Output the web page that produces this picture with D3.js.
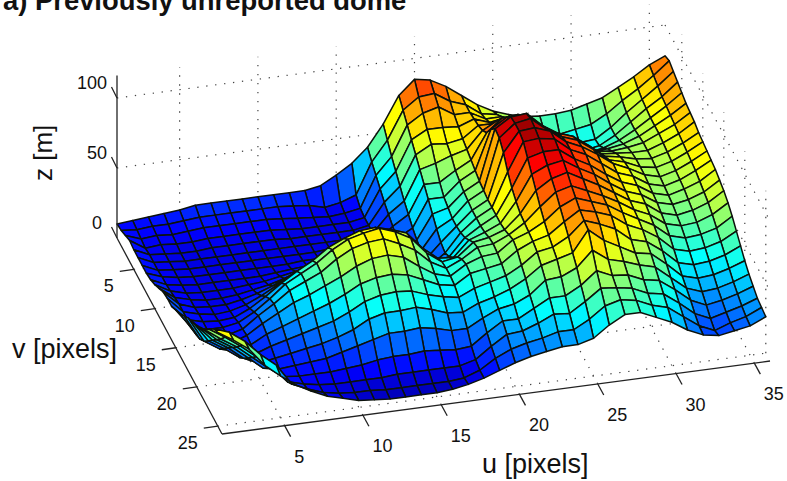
<!DOCTYPE html>
<html><head><meta charset="utf-8">
<style>html,body{margin:0;padding:0;background:#fff}svg{display:block}text{font-family:"Liberation Sans",Arial,sans-serif;fill:#111}</style>
<script src="https://cdn.jsdelivr.net/npm/d3@7"></script></head><body>
<script>
const titleText = "a) Previously unreported dome";
const uTicks = [5,10,15,20,25,30,35];
const vTicks = [5,10,15,20,25];
const zTicks = [0,50,100];
const uGridVals = d3.range(1,37);
const vGridVals = d3.range(1,26);
// z [m] per column u=1..36, each list running v=1..25
const zByU = [
[10,11,13,15,14,14,14,14,15,17,20,23,24,24,27,30,34,38,41,44,48,52,58,64,67],
[11,10,9,8,9,9,9,10,10,11,12,13,13,13,13,14,16,20,26,32,38,44,51,60,60],
[12,11,10,9,8,8,8,8,8,8,9,9,10,10,10,10,10,13,19,25,31,37,43,52,52],
[13,11,9,8,7,7,7,7,7,7,7,8,8,9,10,10,10,10,11,16,22,28,34,41,39],
[14,12,10,8,7,7,7,7,7,7,7,8,9,10,12,13,14,13,12,11,13,19,25,32,30],
[16,13,11,9,8,7,7,7,7,7,8,10,12,15,18,21,21,19,16,13,11,11,13,17,22],
[16,13,11,9,8,7,7,7,7,8,10,13,17,22,26,28,27,23,19,15,12,10,10,12,16],
[16,13,11,9,8,7,7,7,7,9,12,17,23,30,35,36,33,27,22,17,13,10,8,8,11],
[16,13,11,9,8,7,7,7,8,11,15,22,29,37,41,41,37,31,25,19,14,10,7,6,8],
[16,13,11,9,8,7,7,7,9,13,19,27,35,43,47,46,42,35,28,22,17,11,7,5,5],
[16,13,10,8,7,7,7,8,10,15,23,32,41,51,55,54,47,40,33,26,20,12,7,5,4],
[16,12,9,7,7,7,7,8,11,18,27,37,46,56,61,60,53,46,39,32,23,14,7,4,3],
[16,11,8,7,7,7,8,9,13,20,29,39,49,60,64,63,57,49,42,35,26,15,8,4,3],
[18,8,7,7,7,7,8,10,14,21,30,40,50,61,66,64,58,50,43,35,26,15,8,4,3],
[24,10,8,7,7,7,8,10,14,20,28,38,48,58,62,59,55,48,42,36,27,16,8,4,3],
[31,14,10,9,9,9,9,10,12,16,24,33,44,54,56,53,47,43,38,33,25,15,8,4,4],
[41,36,32,28,24,21,18,15,13,12,15,21,32,42,44,43,40,38,35,29,22,14,8,5,6],
[56,50,44,39,34,29,25,21,18,16,15,16,25,33,36,37,37,36,33,28,22,15,11,9,9],
[75,70,65,60,55,50,45,40,35,30,26,24,27,32,38,42,44,43,38,33,28,23,19,16,13],
[85,78,72,66,61,53,45,40,38,36,36,37,39,43,47,49,48,45,41,36,33,30,26,21,17],
[83,79,75,66,60,57,52,50,48,47,46,46,46,47,49,50,49,47,44,40,35,30,27,24,20],
[77,72,68,65,62,60,58,56,54,53,52,52,52,52,53,55,57,55,50,46,40,36,31,26,22],
[69,68,68,69,70,72,76,84,90,89,84,76,70,66,63,62,61,60,58,54,49,42,36,29,24],
[61,60,62,65,70,78,85,91,97,98,98,96,90,84,78,72,67,63,60,57,50,42,35,29,24],
[55,58,62,67,72,79,86,91,98,100,99,97,93,89,85,81,76,71,66,60,55,48,42,35,27],
[51,52,55,60,66,72,78,84,88,91,95,95,93,91,88,84,81,78,76,75,66,57,50,43,35],
[48,47,48,52,57,63,70,76,81,84,86,86,85,84,82,79,77,75,72,66,58,52,49,46,41],
[47,42,42,46,52,59,66,72,77,80,81,81,79,78,76,74,73,71,67,60,55,51,47,44,41],
[47,38,37,40,45,51,58,64,69,72,74,73,71,70,69,68,66,63,58,54,51,46,42,39,36],
[48,40,36,36,40,46,52,56,60,63,66,65,64,63,62,61,60,58,55,52,48,44,40,36,31],
[51,42,37,38,42,47,51,55,58,60,61,61,60,59,58,56,54,51,47,43,39,36,32,28,24],
[54,48,44,44,46,49,52,54,55,55,55,54,53,52,50,48,45,41,37,33,30,27,23,20,19],
[60,56,53,52,52,53,54,54,54,53,52,51,50,49,47,45,42,38,34,30,26,22,18,15,17],
[66,63,61,60,59,59,59,58,57,56,55,54,53,51,49,46,43,39,35,31,27,24,21,19,19],
[73,71,69,67,66,65,64,63,62,61,60,59,57,55,53,50,46,42,38,34,30,27,24,22,21],
[78,80,78,76,74,72,71,70,68,67,66,65,64,62,60,57,53,48,43,38,34,31,28,27,26]
];
const width=787,height=481;
const ox=117, oy=238;
const uX=d3.scaleLinear().domain([1,36]).range([0,548]);
const uY=d3.scaleLinear().domain([1,36]).range([0,-73]);
const vX=d3.scaleLinear().domain([1,26]).range([0,105]);
const vY=d3.scaleLinear().domain([1,26]).range([0,196]);
const zY=d3.scaleLinear().domain([0,100]).range([0,-140]);
const zMax=116;
const px=(u,v)=>ox+uX(u)+vX(v);
const py=(u,v,z)=>oy+uY(u)+vY(v)+zY(z);
const jet=d3.scaleLinear()
 .domain([0,.125,.375,.625,.875,1].map(t=>t*105-3))
 .range(["#000080","#0000ff","#00ffff","#ffff00","#ff0000","#800000"]).clamp(true);

const svg=d3.select("body").append("svg").attr("width",width).attr("height",height);

const gridG=svg.append("g").attr("fill","none").attr("stroke","#444").attr("stroke-width",1.2).attr("stroke-dasharray","1.3 7.7");
const seg=(a,b)=>gridG.append("line").attr("x1",px(a[0],a[1])).attr("y1",py(a[0],a[1],a[2])).attr("x2",px(b[0],b[1])).attr("y2",py(b[0],b[1],b[2]));
uTicks.forEach(u=>{seg([u,26,0],[u,1,0]);seg([u,1,0],[u,1,zMax]);});
vTicks.forEach(v=>{seg([1,v,0],[36,v,0]);seg([36,v,0],[36,v,zMax]);});
zTicks.filter(z=>z>0).forEach(z=>{seg([1,1,z],[36,1,z]);seg([36,1,z],[36,26,z]);});

const cells=[];
vGridVals.slice(0,-1).forEach((v,j)=>{
  d3.range(uGridVals.length-2,-1,-1).forEach(i=>{
    const c=[[i,j],[i+1,j],[i+1,j+1],[i,j+1]];
    cells.push({pts:c.map(([a,b])=>[px(uGridVals[a],vGridVals[b]),py(uGridVals[a],vGridVals[b],zByU[a][b])]),
                z:d3.mean(c,([a,b])=>zByU[a][b])});
  });
});
svg.append("g").selectAll("polygon").data(cells).join("polygon")
 .attr("points",d=>d.pts.map(p=>p.join(",")).join(" "))
 .attr("fill",d=>jet(d.z))
 .attr("stroke","#0c120c").attr("stroke-width",1.5).attr("stroke-linejoin","round");

const axisG=svg.append("g").attr("stroke","#222").attr("stroke-width",1.3).attr("fill","none");
const aline=(x1,y1,x2,y2)=>axisG.append("line").attr("x1",x1).attr("y1",y1).attr("x2",x2).attr("y2",y2);
aline(px(1,1),py(1,1,0),px(1,1),py(1,1,zMax));
aline(px(1,1),py(1,1,0),px(1,26),py(1,26,0));
aline(px(1,26),py(1,26,0),px(36,26),py(36,26,0));
zTicks.forEach(z=>aline(px(1,1),py(1,1,z),px(1,1)-5.5,py(1,1,z)-11));
vTicks.forEach(v=>aline(px(1,v),py(1,v,0),px(1,v)-14,py(1,v,0)+2));
uTicks.forEach(u=>aline(px(u,26),py(u,26,0),px(u,26)+6,py(u,26,0)+11));

const lab=svg.append("g").attr("font-size",18);
zTicks.forEach(z=>lab.append("text").attr("x",px(1,1)-(z===0?15:10)).attr("y",py(1,1,z)-9).attr("text-anchor","end").text(z));
vTicks.forEach(v=>lab.append("text").attr("x",px(1,v)-20).attr("y",py(1,v,0)+23).attr("text-anchor","end").text(v));
uTicks.forEach(u=>lab.append("text").attr("x",px(u,26)+9.5).attr("y",py(u,26,0)+37).attr("text-anchor","start").text(u));

svg.append("text").attr("x",482).attr("y",473).attr("font-size",27).text("u [pixels]");
svg.append("text").attr("x",12).attr("y",358).attr("font-size",27).text("v [pixels]");
svg.append("text").attr("transform","translate(52,181) rotate(-90)").attr("font-size",26).text("z [m]");
svg.append("text").attr("x",3).attr("y",10).attr("font-size",27.4).attr("font-weight",700).attr("fill","#000").text(titleText);
</script></body></html>
